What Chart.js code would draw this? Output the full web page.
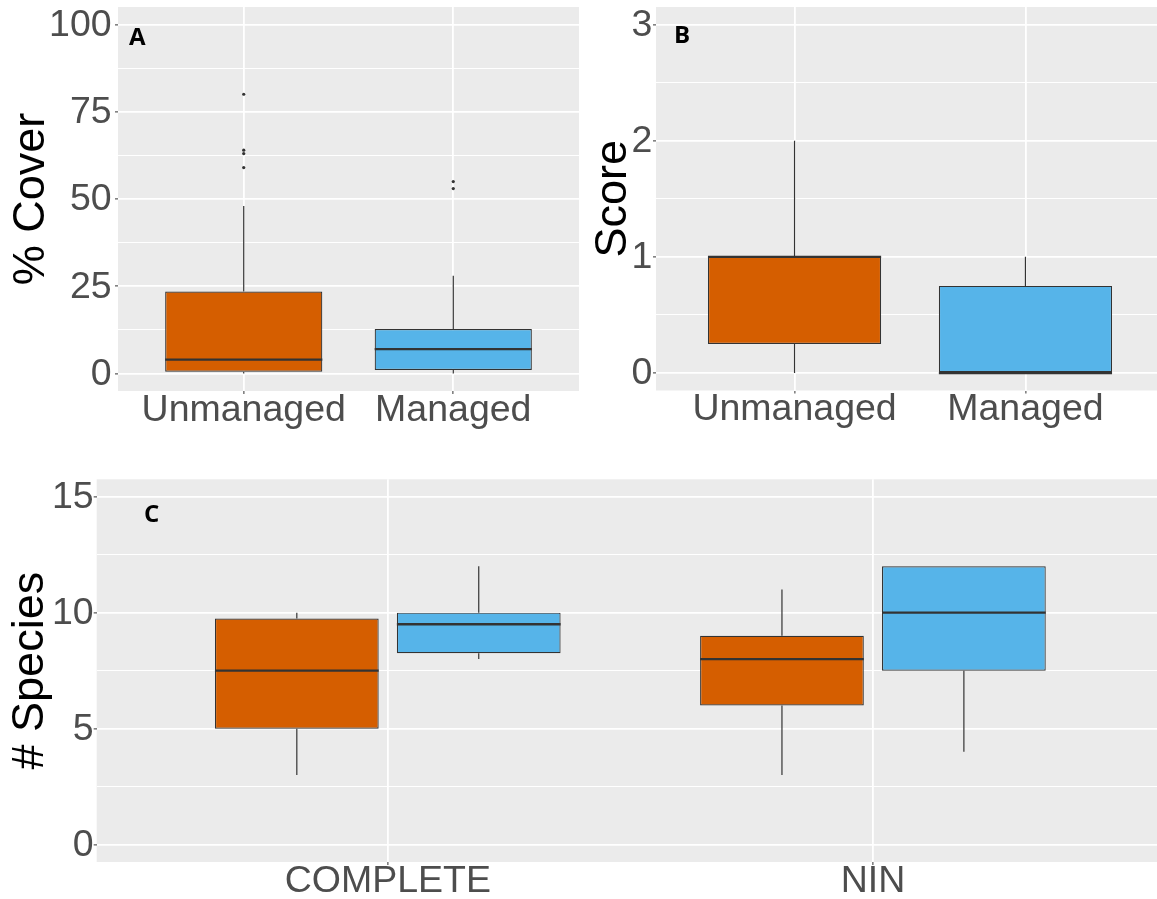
<!DOCTYPE html>
<html><head><meta charset="utf-8">
<script src="https://cdn.jsdelivr.net/npm/chart.js@4"></script>
<style>
html,body{margin:0;padding:0;background:#fff;overflow:hidden;width:1157px;height:899px;position:relative}
canvas{position:absolute}
</style></head><body>
<canvas id="cA" width="583" height="440" style="left:0;top:0;width:583px;height:440px"></canvas>
<canvas id="cB" width="581" height="440" style="left:583px;top:0;width:581px;height:440px"></canvas>
<canvas id="cC" width="1164" height="459" style="left:0;top:440px;width:1164px;height:459px"></canvas>
<script>
// ---------- data ----------
const groupsTop = ['Unmanaged', 'Managed'];
const groupColors = ['#D55E00', '#56B4E9'];

// Panel A: % Cover
const coverQ1  = [0.5, 1];
const coverMed = [4, 7];
const coverQ3  = [23.5, 12.75];
const coverLo  = [0, 0];
const coverHi  = [48, 28];
const coverOutliersUnmanaged = [59, 63, 64, 80];
const coverOutliersManaged   = [53, 55];
const coverTicks = [0, 25, 50, 75, 100];

// Panel B: Score
const scoreQ1  = [0.25, 0];
const scoreMed = [1, 0];
const scoreQ3  = [1, 0.75];
const scoreLo  = [0, 0];
const scoreHi  = [2, 1];
const scoreTicks = [0, 1, 2, 3];

// Panel C: # Species
const surveyTypes = ['COMPLETE', 'NIN'];
const spUnmanagedQ1  = [5, 6];
const spUnmanagedMed = [7.5, 8];
const spUnmanagedQ3  = [9.75, 9];
const spUnmanagedLo  = [3, 3];
const spUnmanagedHi  = [10, 11];
const spManagedQ1  = [8.25, 7.5];
const spManagedMed = [9.5, 10];
const spManagedQ3  = [10, 12];
const spManagedLo  = [8, 4];
const spManagedHi  = [12, 12];
const speciesTicks = [0, 5, 10, 15];

// ---------- helpers ----------
const TICK_FONT = {family: '"Liberation Sans", Arial, sans-serif', size: 37.5, lineHeight: 1};
const TITLE_FONT = {family: '"Liberation Sans", Arial, sans-serif', size: 45, lineHeight: 1};

const bgPlugin = {
  id: 'panelBg',
  beforeDraw(chart) {
    const {ctx, chartArea: a} = chart;
    ctx.save();
    ctx.fillStyle = '#EBEBEB';
    ctx.fillRect(a.left, a.top, a.right - a.left, a.bottom - a.top);
    ctx.restore();
  }
};

function drawBoxParts(chart, part) {
  const ctx = chart.ctx, ys = chart.scales.y, a = chart.chartArea;
  ctx.save();
  ctx.beginPath(); ctx.rect(a.left, a.top, a.right - a.left, a.bottom - a.top); ctx.clip();
  chart.data.datasets.forEach((ds, di) => {
    if (!ds.box) return;
    const meta = chart.getDatasetMeta(di);
    meta.data.forEach((el, i) => {
      const p = el.getProps(['x', 'width'], true);
      const b = ds.box;
      ctx.strokeStyle = '#333333';
      if (part === 'whisker') {
        ctx.lineWidth = 1.2;
        ctx.beginPath();
        ctx.moveTo(p.x, ys.getPixelForValue(b.hi[i]));
        ctx.lineTo(p.x, ys.getPixelForValue(b.q3[i]));
        ctx.moveTo(p.x, ys.getPixelForValue(b.q1[i]));
        ctx.lineTo(p.x, ys.getPixelForValue(b.lo[i]));
        ctx.stroke();
      } else {
        ctx.lineWidth = 2.3;
        const yy = ys.getPixelForValue(b.med[i]);
        ctx.beginPath();
        ctx.moveTo(p.x - p.width / 2, yy);
        ctx.lineTo(p.x + p.width / 2, yy);
        ctx.stroke();
      }
    });
  });
  ctx.restore();
}
const boxPlugin = {
  id: 'boxParts',
  beforeDatasetsDraw(chart) { drawBoxParts(chart, 'whisker'); },
  afterDatasetsDraw(chart) { drawBoxParts(chart, 'median'); }
};
const labelPlugin = {
  id: 'panelLabel',
  afterDraw(chart, args, opts) {
    const ctx = chart.ctx;
    ctx.save();
    ctx.font = '700 24px "Open Sans", "DejaVu Sans", sans-serif';
    ctx.fillStyle = '#000';
    ctx.textBaseline = 'alphabetic';
    ctx.fillText(opts.text, opts.x, opts.y);
    ctx.restore();
  }
};

function boxDataset(label, cats, q1, med, q3, lo, hi, colors, extra) {
  return Object.assign({
    type: 'bar',
    label: label,
    data: cats.map((c, i) => ({x: i + 1, y: [q1[i], q3[i]]})),
    backgroundColor: colors,
    borderColor: '#333333',
    borderWidth: 1.2,
    borderSkipped: false,
    box: {q1, med, q3, lo, hi},
    order: 2
  }, extra || {});
}

function makePanel(id, o) {
  const majors = o.ticks;
  const step = majors[1] - majors[0];
  const allTicks = [];
  majors.forEach((v, i) => { allTicks.push(v); if (i < majors.length - 1) allTicks.push(v + step / 2); });
  const isMajor = v => majors.some(m => Math.abs(m - v) < 1e-9);
  return new Chart(document.getElementById(id), {
    data: {datasets: o.datasets},
    plugins: [bgPlugin, boxPlugin, labelPlugin],
    options: {
      responsive: false,
      animation: false,
      devicePixelRatio: 1,
      layout: {padding: {top: o.padTop, left: 0, right: 0, bottom: 0}},
      plugins: {
        legend: {display: false},
        tooltip: {enabled: false},
        panelLabel: o.label
      },
      scales: {
        x: {
          type: 'linear',
          min: 0.4, max: 2.6,
          offset: false,
          border: {display: false},
          grid: {
            offset: false,
            color: '#FFFFFF', lineWidth: 1.8,
            drawTicks: true, tickLength: 3, tickColor: '#333333', tickWidth: 1
          },
          afterBuildTicks: s => { s.ticks = o.cats.map((c, i) => ({value: i + 1})); },
          ticks: {
            autoSkip: false, maxRotation: 0, minRotation: 0,
            padding: o.xPad, color: '#4D4D4D', font: TICK_FONT,
            callback: v => o.cats[Math.round(v) - 1]
          },
          afterFit: s => { s.height = o.xAxisH; s.paddingLeft = 0; s.paddingRight = 0; s.paddingTop = 0; s.paddingBottom = 0; }
        },
        y: {
          type: 'linear',
          min: o.yMin, max: o.yMax,
          border: {display: false},
          grid: {
            color: '#FFFFFF',
            lineWidth: c => isMajor(c.tick.value) ? 1.8 : 1.1,
            drawTicks: true, tickLength: 3,
            tickColor: c => isMajor(c.tick.value) ? '#333333' : 'rgba(0,0,0,0)',
            tickWidth: 1
          },
          afterBuildTicks: s => { s.ticks = allTicks.map(v => ({value: v})); },
          ticks: {
            autoSkip: false, padding: o.yPad, color: '#4D4D4D', font: TICK_FONT, labelOffset: 1,
            callback: v => isMajor(v) ? String(v) : ''
          },
          title: {
            display: true, text: o.title, color: '#000000', font: TITLE_FONT,
            padding: {top: o.titlePad, bottom: 0}
          },
          afterFit: s => { s.width = o.yAxisW; s.paddingLeft = 0; s.paddingRight = 0; s.paddingTop = 0; s.paddingBottom = 0; }
        }
      }
    }
  });
}

// ---------- Panel A ----------
makePanel('cA', {
  cats: groupsTop, ticks: coverTicks, yMin: -5, yMax: 105,
  title: '% Cover', padTop: 7, xAxisH: 49, yAxisW: 118, yPad: 3.4, xPad: -2.5, titlePad: 9,
  label: {text: 'A', x: 129, y: 45},
  datasets: [
    boxDataset('% Cover', groupsTop, coverQ1, coverMed, coverQ3, coverLo, coverHi, groupColors,
      {categoryPercentage: 1, barPercentage: 0.75}),
    {
      type: 'scatter', label: 'outliers',
      data: coverOutliersUnmanaged.map(v => ({x: 1, y: v})).concat(coverOutliersManaged.map(v => ({x: 2, y: v}))),
      pointRadius: 1.6, pointBackgroundColor: '#333333', pointBorderWidth: 0, order: 1
    }
  ]
});

// ---------- Panel B ----------
makePanel('cB', {
  cats: groupsTop, ticks: scoreTicks, yMin: -0.15, yMax: 3.15,
  title: 'Score', padTop: 7, xAxisH: 49.5, yAxisW: 73, yPad: 0.6, xPad: -2.5, titlePad: 8.5,
  label: {text: 'B', x: 91, y: 43},
  datasets: [
    boxDataset('Score', groupsTop, scoreQ1, scoreMed, scoreQ3, scoreLo, scoreHi, groupColors,
      {categoryPercentage: 1, barPercentage: 0.75})
  ]
});

// ---------- Panel C ----------
makePanel('cC', {
  cats: surveyTypes, ticks: speciesTicks, yMin: -0.75, yMax: 15.75,
  title: '# Species', padTop: 39.3, xAxisH: 37, yAxisW: 96.7, yPad: 0, xPad: -2.5, titlePad: 8,
  label: {text: 'C', x: 144, y: 82},
  datasets: [
    boxDataset('Unmanaged', surveyTypes, spUnmanagedQ1, spUnmanagedMed, spUnmanagedQ3, spUnmanagedLo, spUnmanagedHi,
      groupColors[0], {categoryPercentage: 0.75, barPercentage: 0.9}),
    boxDataset('Managed', surveyTypes, spManagedQ1, spManagedMed, spManagedQ3, spManagedLo, spManagedHi,
      groupColors[1], {categoryPercentage: 0.75, barPercentage: 0.9})
  ]
});
</script>
</body></html>
